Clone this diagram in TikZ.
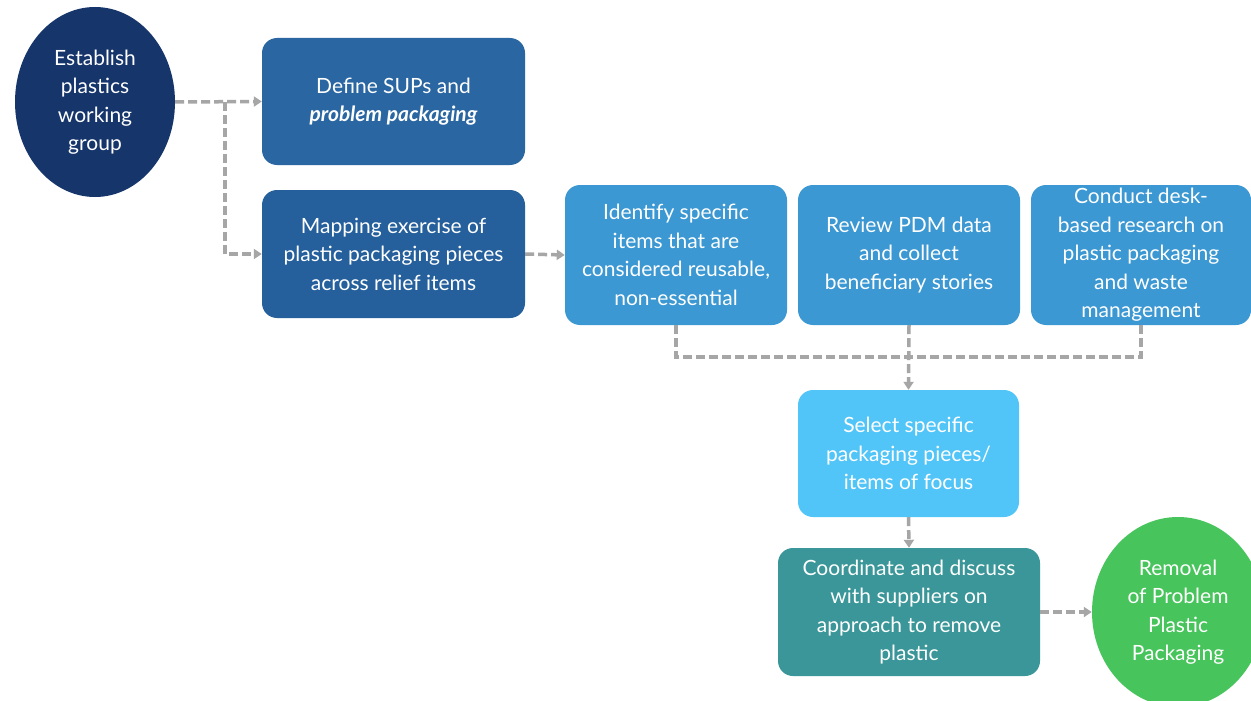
\documentclass[tikz,border=0pt]{standalone}
\usepackage{fontspec}
\setmainfont{Lato}
\usetikzlibrary{arrows.meta,shapes.geometric}
\definecolor{navy}{HTML}{15356B}
\definecolor{midblue}{HTML}{2A66A2}
\definecolor{midblueb}{HTML}{25609C}
\definecolor{skyblue}{HTML}{3B98D2}
\definecolor{lightblue}{HTML}{52C5F8}
\definecolor{teal}{HTML}{3A9698}
\definecolor{green}{HTML}{47C45B}
\definecolor{arrowgray}{HTML}{A6A6A6}
\tikzset{
  box/.style={draw=none, rounded corners=15pt, text=white, align=center,
    font=\fontsize{21}{28.5}\selectfont, inner sep=0pt},
  oval/.style={draw=none, ellipse, text=white, align=center,
    font=\fontsize{21}{28.5}\selectfont, inner sep=0pt},
  conn/.style={draw=arrowgray, line width=3.5pt, dash pattern=on 9pt off 4pt},
  tip/.style={-{Triangle[length=8pt,width=10pt]}},
}
\begin{document}
\begin{tikzpicture}[x=1pt,y=-1pt]
\useasboundingbox (0,0) rectangle (1251,701);
\fill[white] (0,0) rectangle (1251,701);
\node[oval, fill=navy, minimum width=160pt, minimum height=190pt] (est) at (95,102) {Establish\\plastics\\working\\group};
\node[box, fill=midblue, minimum width=263pt, minimum height=127pt] (def) at (393.5,101.5) {Define SUPs and\\\textbf{\textit{problem packaging}}};
\node[box, fill=midblueb, minimum width=263pt, minimum height=128pt] (map) at (393.5,254) {Mapping exercise of\\plastic packaging pieces\\across relief items};
\node[box, fill=skyblue, minimum width=222pt, minimum height=140pt] (idf) at (676,255) {Identify specific\\items that are\\considered reusable,\\non-essential};
\node[box, fill=skyblue, minimum width=222pt, minimum height=140pt] (rev) at (909,255) {Review PDM data\\and collect\\beneficiary stories};
\node[box, fill=skyblue, minimum width=220pt, minimum height=140pt] (con) at (1141,255) {Conduct desk-\\based research on\\plastic packaging\\and waste\\management};
\node[box, fill=lightblue, minimum width=221pt, minimum height=127pt] (sel) at (908.5,453.5) {Select specific\\packaging pieces/\\items of focus};
\node[box, fill=teal, minimum width=262pt, minimum height=128pt] (coo) at (909,612) {Coordinate and discuss\\with suppliers on\\approach to remove\\plastic};
\node[oval, fill=green, minimum width=172pt, minimum height=190pt] (rem) at (1178,612) {Removal\\of Problem\\Plastic\\Packaging};
\coordinate (br) at (225,102);
\coordinate (jn) at (909,357);
\draw[conn,tip] (est.east |- br) -- (def.west);
\draw[conn,tip] (br) |- (map.west);
\draw[conn,tip] (map.east) -- (idf.west);
\draw[conn] (idf.south) |- (jn);
\draw[conn] (con.south) |- (jn);
\draw[conn,tip] (rev.south) -- (sel.north);
\draw[conn,tip] (sel.south) -- (coo.north);
\draw[conn,tip] (coo.east) -- (rem.west);
\end{tikzpicture}
\end{document}
